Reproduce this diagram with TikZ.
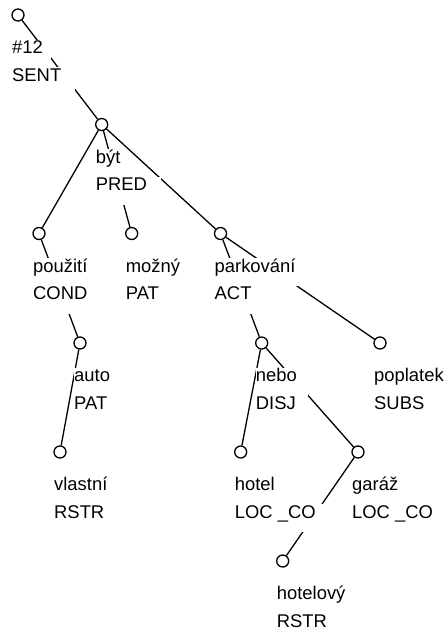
\documentclass[tikz,border=0pt]{standalone}
\usepackage{fontspec}
\setmainfont{Liberation Sans}
\usetikzlibrary{backgrounds}
\newcommand\lb[1]{\rule[-14pt]{0pt}{28pt}\makebox[1.27\width][l]{#1}}
\tikzset{
  tn/.style={circle, draw, fill=white, line width=1.3pt, minimum size=12pt, inner sep=0pt},
  lbl/.style={anchor=base west, fill=white, inner sep=0pt, font=\fontsize{18.4pt}{20pt}\selectfont},
  edge/.style={line width=1.3pt}
}
\newcommand\tnode[5]{%
  \node[tn] (#1) at (#2,#3) {};
  \node[lbl] (#1a) at (#2-6,#3+38.7) {\lb{#4}};
  \node[lbl] (#1b) at (#2-6,#3+66) {\lb{#5}};
}
\begin{document}
\begin{tikzpicture}[x=1pt,y=-1pt]
\useasboundingbox (0,0) rectangle (445,633);
\tnode{root}{18}{15}{\#12}{SENT}
\tnode{pred}{101.7}{124.5}{být}{PRED}
\tnode{cond}{39}{233.5}{použití}{COND}
\tnode{patm}{131.7}{233.5}{možný}{PAT}
\tnode{act}{220.5}{233.5}{parkování}{ACT}
\tnode{auto}{80}{343}{auto}{PAT}
\tnode{disj}{261.7}{343}{nebo}{DISJ}
\tnode{subs}{380}{343}{poplatek}{SUBS}
\tnode{vlas}{60}{452}{vlastní}{RSTR}
\tnode{hotel}{240.7}{452}{hotel}{LOC \_CO}
\tnode{garaz}{358}{452}{garáž}{LOC \_CO}
\tnode{hotv}{282.7}{561}{hotelový}{RSTR}
\begin{pgfonlayer}{background}
\draw[edge] (root) -- (pred);
\draw[edge] (pred) -- (cond);
\draw[edge] (pred) -- (patm);
\draw[edge] (pred) -- (act);
\draw[edge] (cond) -- (auto);
\draw[edge] (auto) -- (vlas);
\draw[edge] (act) -- (disj);
\draw[edge] (act) -- (subs);
\draw[edge] (disj) -- (hotel);
\draw[edge] (disj) -- (garaz);
\draw[edge] (garaz) -- (hotv);
\end{pgfonlayer}
\end{tikzpicture}
\end{document}
